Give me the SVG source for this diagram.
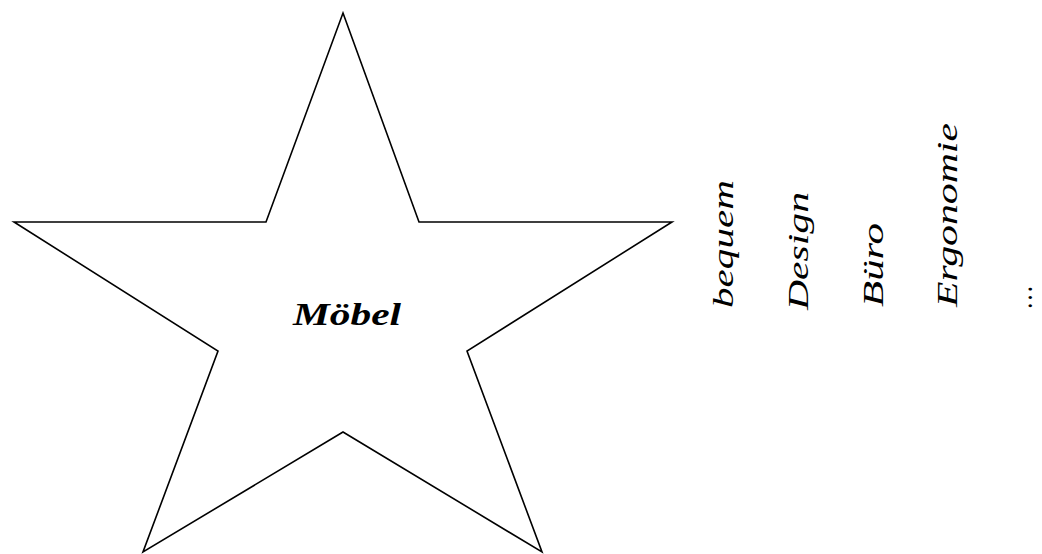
<svg xmlns="http://www.w3.org/2000/svg" width="1042" height="554" viewBox="0 0 1042 554">
<style>
.star{fill:#fff;stroke:#000;stroke-width:1.6;stroke-linejoin:miter}
.t{font-family:"Liberation Serif","DejaVu Serif",serif;font-style:italic;fill:#000}
.v{font-size:30px}
</style>
<rect width="1042" height="554" fill="#fff"/>
<g id="star">
<polygon class="star" points="343,13 419,222 672,222 467,351 542,552 343,432 143,552 218,351 14,222 266,222"/>
<text class="t" x="293" y="325" font-size="32" font-weight="bold" textLength="108" lengthAdjust="spacingAndGlyphs">Möbel</text>
</g>
<g id="words">
<text class="t v" transform="translate(733,308) rotate(-90)" textLength="128" lengthAdjust="spacingAndGlyphs">bequem</text>
<text class="t v" transform="translate(808,310) rotate(-90)" textLength="118" lengthAdjust="spacingAndGlyphs">Design</text>
<text class="t v" transform="translate(883,307) rotate(-90)" textLength="84" lengthAdjust="spacingAndGlyphs">Büro</text>
<text class="t v" transform="translate(957,307) rotate(-90)" textLength="184" lengthAdjust="spacingAndGlyphs">Ergonomie</text>
<text class="t v" transform="translate(1032,308) rotate(-90)" textLength="22" lengthAdjust="spacingAndGlyphs">…</text>
</g>
</svg>
